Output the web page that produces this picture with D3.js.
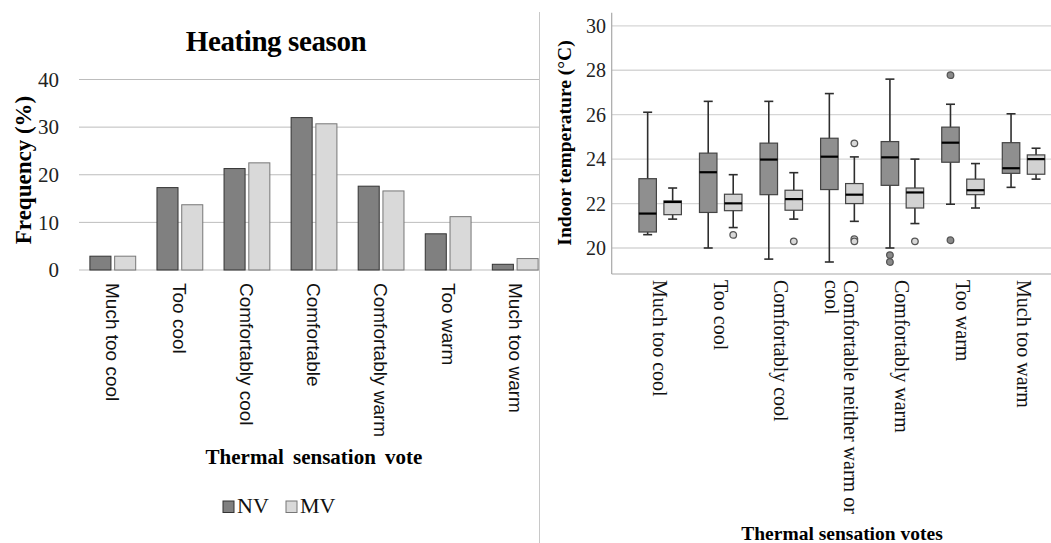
<!DOCTYPE html>
<html lang="en">
<head>
<meta charset="UTF-8">
<script src="https://d3js.org/d3.v7.min.js"></script>
<title>Heating season</title>
<style>
  body { margin: 0; background: #fff; }
  svg { display: block; }
</style>
</head>
<body>
<div id="chart"></div>
<script>
// left panel: frequency of votes
const categories = ["Much too cool", "Too cool", "Comfortably cool", "Comfortable", "Comfortably warm", "Too warm", "Much too warm"];
const nvFreq = [2.9, 17.3, 21.3, 32.0, 17.6, 7.6, 1.2];
const mvFreq = [2.9, 13.7, 22.5, 30.7, 16.6, 11.2, 2.4];
const freqTicks = [0, 10, 20, 30, 40];
const groups = ["NV", "MV"];

// right panel: indoor temperature boxplots [min, q1, median, q3, max]
const boxCategories = [["Much too cool"], ["Too cool"], ["Comfortably cool"], ["Comfortable neither warm or", "cool"], ["Comfortably warm"], ["Too warm"], ["Much too warm"]];
const nvBox = [
  [20.6, 20.72, 21.55, 23.12, 26.11],
  [20.0, 21.6, 23.41, 24.27, 26.6],
  [19.5, 22.4, 23.98, 24.72, 26.6],
  [19.37, 22.63, 24.11, 24.94, 26.95],
  [20.0, 22.82, 24.08, 24.79, 27.6],
  [21.97, 23.86, 24.74, 25.44, 26.47],
  [22.73, 23.36, 23.59, 24.74, 26.04]
];
const nvOutliers = [[], [], [], [], [19.68, 19.37], [27.78, 20.35], []];
const mvBox = [
  [21.3, 21.5, 22.07, 22.12, 22.7],
  [20.92, 21.68, 22.01, 22.42, 23.3],
  [21.3, 21.7, 22.2, 22.6, 23.39],
  [21.2, 22.0, 22.4, 22.9, 24.1],
  [21.1, 21.8, 22.5, 22.7, 24.0],
  [21.8, 22.4, 22.6, 23.1, 23.8],
  [23.1, 23.32, 24.0, 24.19, 24.49]
];
const mvOutliers = [[], [20.59], [20.3], [24.71, 20.4, 20.3], [20.3], [], []];
const tempTicks = [20, 22, 24, 26, 28, 30];

const serif = "'Liberation Serif', 'Times New Roman', serif";
const sans = "'Liberation Sans', Arial, sans-serif";
const width = 1051, height = 543;

const svg = d3.select("#chart").append("svg")
    .attr("width", width)
    .attr("height", height)
    .attr("viewBox", [0, 0, width, height]);

// ---------- left bar chart ----------
const xL = d3.scaleBand().domain(categories).range([79.3, 548.8]);
const xSub = d3.scaleBand().domain(groups).range([10.6, 56.4]).paddingInner(0.15);
const yL = d3.scaleLinear().domain([0, 40]).range([270, 79.5]);
const barFill = { NV: "#808080", MV: "#d9d9d9" };
const barStroke = { NV: "#333", MV: "#777" };

svg.append("defs").append("clipPath").attr("id", "clipL")
  .append("rect").attr("x", 0).attr("y", 0).attr("width", 539).attr("height", height);

svg.append("text")
    .attr("x", 276).attr("y", 51)
    .attr("text-anchor", "middle")
    .attr("font-family", serif).attr("font-weight", "bold").attr("font-size", 29)
    .attr("letter-spacing", -0.4)
    .text("Heating season");

svg.append("g").selectAll("line").data(freqTicks).join("line")
    .attr("x1", 79).attr("x2", 539)
    .attr("y1", d => yL(d)).attr("y2", d => yL(d))
    .attr("stroke", "#bdbdbd").attr("stroke-width", 1);

svg.append("g").selectAll("text").data(freqTicks).join("text")
    .attr("x", 59).attr("y", d => yL(d))
    .attr("dy", "0.35em")
    .attr("text-anchor", "end")
    .attr("font-family", serif).attr("font-size", 21).attr("fill", "#222")
    .text(d => d);

const barData = [];
categories.forEach((c, i) => {
  barData.push({ cat: c, g: "NV", v: nvFreq[i] });
  barData.push({ cat: c, g: "MV", v: mvFreq[i] });
});

svg.append("g").attr("clip-path", "url(#clipL)")
  .selectAll("rect").data(barData).join("rect")
    .attr("x", d => xL(d.cat) + xSub(d.g))
    .attr("y", d => yL(d.v))
    .attr("width", xSub.bandwidth())
    .attr("height", d => yL(0) - yL(d.v))
    .attr("fill", d => barFill[d.g])
    .attr("stroke", d => barStroke[d.g])
    .attr("stroke-width", 1);

svg.append("g").selectAll("text").data(categories).join("text")
    .attr("transform", d => `translate(${xL(d) + xL.bandwidth() / 2},283) rotate(90)`)
    .attr("dy", "0.35em")
    .attr("font-family", sans).attr("font-size", 19).attr("fill", "#111")
    .text(d => d);

svg.append("text")
    .attr("transform", "translate(31,170) rotate(-90)")
    .attr("text-anchor", "middle")
    .attr("font-family", serif).attr("font-weight", "bold").attr("font-size", 23)
    .text("Frequency (%)");

svg.append("text")
    .attr("x", 314).attr("y", 464)
    .attr("text-anchor", "middle")
    .attr("font-family", serif).attr("font-weight", "bold").attr("font-size", 21)
    .attr("word-spacing", 4)
    .text("Thermal sensation vote");

const legend = svg.append("g").selectAll("g").data(groups).join("g")
    .attr("transform", (d, i) => `translate(${223 + i * 63},501)`);
legend.append("rect")
    .attr("width", 11).attr("height", 11.5)
    .attr("fill", d => barFill[d]).attr("stroke", d => barStroke[d]);
legend.append("text")
    .attr("x", 14).attr("y", 12)
    .attr("font-family", serif).attr("font-size", 22).attr("fill", "#111")
    .text(d => d);

// divider
svg.append("line")
    .attr("x1", 539.5).attr("x2", 539.5).attr("y1", 12).attr("y2", height)
    .attr("stroke", "#c8c8c8");

// ---------- right boxplot ----------
const xR = d3.scaleBand().domain(d3.range(boxCategories.length)).range([611.7, 1072]).paddingOuter(0.3);
const yR = d3.scaleLinear().domain([18.83, 30.59]).range([274, 12.7]);
const boxW = 17.5;
const boxOffset = { NV: -12.5, MV: 12.5 };
const boxFill = { NV: "#8f8f8f", MV: "#d2d2d2" };

svg.append("g").selectAll("line").data(tempTicks).join("line")
    .attr("x1", 612).attr("x2", width)
    .attr("y1", d => yR(d)).attr("y2", d => yR(d))
    .attr("stroke", "#d6d6d6").attr("stroke-width", 1.3);

svg.append("line")
    .attr("x1", 611.7).attr("x2", 611.7).attr("y1", 12.7).attr("y2", 274)
    .attr("stroke", "#a8a8a8").attr("stroke-width", 1.2);
svg.append("line")
    .attr("x1", 611.7).attr("x2", width).attr("y1", 274).attr("y2", 274)
    .attr("stroke", "#a8a8a8").attr("stroke-width", 1.2);

svg.append("g").selectAll("text").data(tempTicks).join("text")
    .attr("x", 606).attr("y", d => yR(d))
    .attr("dy", "0.35em")
    .attr("text-anchor", "end")
    .attr("font-family", serif).attr("font-size", 20).attr("fill", "#222")
    .text(d => d);

const boxData = [];
boxCategories.forEach((c, i) => {
  boxData.push({ i, g: "NV", s: nvBox[i], out: nvOutliers[i] });
  boxData.push({ i, g: "MV", s: mvBox[i], out: mvOutliers[i] });
});

const box = svg.append("g").selectAll("g").data(boxData).join("g")
    .attr("transform", d => `translate(${xR(d.i) + xR.bandwidth() / 2 + boxOffset[d.g]},0)`);

box.append("line")
    .attr("x1", 0).attr("x2", 0)
    .attr("y1", d => yR(d.s[0])).attr("y2", d => yR(d.s[4]))
    .attr("stroke", "#2e2e2e").attr("stroke-width", 1.6);
box.selectAll(".cap").data(d => [d.s[0], d.s[4]]).join("line")
    .attr("class", "cap")
    .attr("x1", -4.5).attr("x2", 4.5)
    .attr("y1", d => yR(d)).attr("y2", d => yR(d))
    .attr("stroke", "#2e2e2e").attr("stroke-width", 1.6);
box.append("rect")
    .attr("x", -boxW / 2).attr("width", boxW)
    .attr("y", d => yR(d.s[3]))
    .attr("height", d => yR(d.s[1]) - yR(d.s[3]))
    .attr("fill", d => boxFill[d.g])
    .attr("stroke", "#444").attr("stroke-width", 1.2);
box.append("line")
    .attr("x1", -boxW / 2).attr("x2", boxW / 2)
    .attr("y1", d => yR(d.s[2])).attr("y2", d => yR(d.s[2]))
    .attr("stroke", "#000").attr("stroke-width", 2.2);
box.selectAll("circle").data(d => d.out.map(v => ({ v, g: d.g }))).join("circle")
    .attr("cx", 0).attr("cy", d => yR(d.v)).attr("r", 3.3)
    .attr("fill", d => d.g === "NV" ? "#8a8a8a" : "#d8d8d8")
    .attr("stroke", "#555").attr("stroke-width", 1.3);

const lab = svg.append("g").selectAll("text").data(boxCategories).join("text")
    .attr("transform", (d, i) => `translate(${xR(i) + xR.bandwidth() / 2},280) rotate(90)`)
    .attr("font-family", serif).attr("font-size", 20).attr("fill", "#111");
lab.selectAll("tspan").data(d => d.map((t, k) => ({ t, k, n: d.length }))).join("tspan")
    .attr("x", 0)
    .attr("y", d => (d.k - (d.n - 1) / 2) * 19)
    .attr("dy", "0.35em")
    .text(d => d.t);

svg.append("text")
    .attr("transform", "translate(571,143) rotate(-90)")
    .attr("text-anchor", "middle")
    .attr("font-family", serif).attr("font-weight", "bold").attr("font-size", 19.5)
    .text("Indoor temperature (°C)");

svg.append("text")
    .attr("x", 842).attr("y", 540)
    .attr("text-anchor", "middle")
    .attr("font-family", serif).attr("font-weight", "bold").attr("font-size", 19.5)
    .text("Thermal sensation votes");
</script>
</body>
</html>
